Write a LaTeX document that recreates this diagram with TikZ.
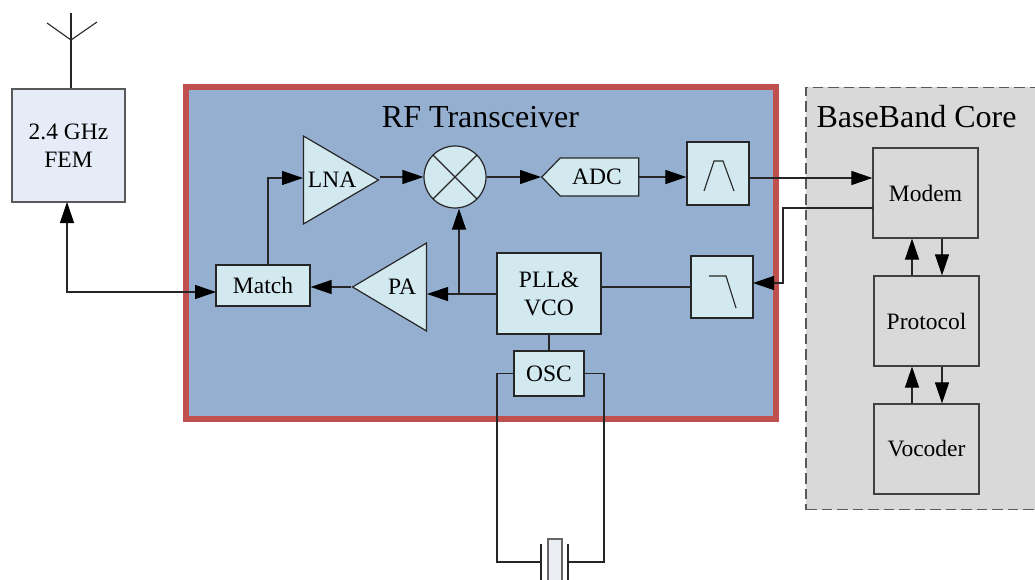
\documentclass[tikz,border=0pt]{standalone}
\usepackage{fontspec}
\setmainfont{Liberation Serif}
\usetikzlibrary{arrows.meta,shapes.geometric,shapes.symbols}
\definecolor{femfill}{HTML}{E6ECF7}
\definecolor{rffill}{HTML}{95AFD0}
\definecolor{rfedge}{HTML}{C0504D}
\definecolor{bbfill}{HTML}{D9D9D9}
\definecolor{blockfill}{HTML}{D2E9F0}
\definecolor{xtalfill}{HTML}{EAEEF4}

\begin{document}
\begin{tikzpicture}[x=1pt, y=1pt, line width=1pt, >={Triangle[length=21pt,width=14pt,fill=black,color=black]}, every node/.style={text=black, font=\fontsize{23.5}{28}\selectfont}]
    \tikzstyle{box}=[rectangle, draw=black!85, line width=1.2pt, inner sep=0pt, align=center]
    \tikzstyle{block}=[box, fill=blockfill]
    \tikzstyle{corebox}=[box, draw=black!75]
    \tikzstyle{amp}=[isosceles triangle, isosceles triangle stretches, draw=black!85, line width=1.2pt, fill=blockfill, inner sep=0pt]
    \tikzstyle{title}=[font=\fontsize{32}{36}\selectfont]
    \tikzstyle{wire}=[draw=black!85, line width=1.1pt]

    \clip (0,0) rectangle (1035,-580);

    % Large panels
    \node[box, draw=rfedge, line width=6pt, fill=rffill, minimum width=590pt, minimum height=332pt] (RF) at (481,-253) {};
    \node[box, draw=black!65, dash pattern=on 10.5pt off 5pt, line width=1.3pt, fill=bbfill, minimum width=239pt, minimum height=422.5pt] (BB) at (925.5,-298.5) {};
    \node[title] (RF-title) at (480.5,-117) {RF Transceiver};
    \node[title] (BB-title) at (916.5,-117) {BaseBand Core};

    % Antenna and front end
    \node[box, draw=black!65, line width=1.4pt, fill=femfill, minimum width=113pt, minimum height=113pt] (FEM) at (68.5,-145.5) {2.4 GHz\\FEM};
    \coordinate (ant-top) at (71,-13);
    \coordinate (ant-fork) at (71,-40);
    \coordinate (ant-left) at (47,-23);
    \coordinate (ant-right) at (97,-22);
    \draw[wire] (ant-top) -- (ant-top |- FEM.north);
    \draw[wire] (ant-left) -- (ant-fork) -- (ant-right);

    % Transceiver blocks
    \node[block, minimum width=94pt, minimum height=41pt] (Match) at (263,-285.5) {Match};
    \node[amp, anchor=apex, minimum width=88pt, minimum height=75pt] (LNA) at (380,-180) {\raisebox{-4pt}{LNA}};
    \node[amp, anchor=apex, shape border rotate=180, minimum width=88pt, minimum height=74pt] (PA) at (351,-287) {\hspace*{2pt}PA};
    \node[circle, draw=black!85, line width=1.2pt, fill=blockfill, minimum size=62pt, inner sep=0pt] (MIX) at (455,-177) {};
    \draw[wire] (MIX.north west) -- (MIX.south east);
    \draw[wire] (MIX.north east) -- (MIX.south west);
    \node[signal, signal to=west, signal from=nowhere, signal pointer angle=92, draw=black!85, line width=1.2pt, fill=blockfill, inner sep=0pt, minimum width=97pt, minimum height=38pt] (ADC) at (599.5,-177) {\hspace*{-5pt}ADC};
    \node[block, minimum width=62pt, minimum height=63pt] (BPF) at (718,-173.5) {};
    \node[block, minimum width=62pt, minimum height=62pt] (LPF) at (722,-287) {};
    \node[block, minimum width=104pt, minimum height=81pt] (PLL) at (549,-293.5) {PLL\&\\VCO};
    \node[block, minimum width=70pt, minimum height=45pt] (OSC) at (549,-373.5) {OSC};

    % Filter curves
    \draw[wire] (704,-191) -- (714,-161) -- (723,-161) -- (734,-191);
    \draw[wire] (709,-276) -- (726,-276) -- (736,-308);

    % Baseband blocks
    \node[corebox, minimum width=105pt, minimum height=90pt] (Modem) at (925.5,-193) {Modem};
    \node[corebox, minimum width=105pt, minimum height=90pt] (Protocol) at (926.5,-321) {Protocol};
    \node[corebox, minimum width=105pt, minimum height=90pt] (Vocoder) at (926.5,-449) {Vocoder};

    % Crystal
    \node[box, draw=black!60, fill=xtalfill, minimum width=14pt, minimum height=60pt] (XTAL) at (555,-569) {};
    \coordinate (plate-l) at (541,-562);
    \coordinate (plate-r) at (568,-562);
    \coordinate (xtal-l) at (497,-562);
    \coordinate (xtal-r) at (604,-562);
    \draw[wire, line width=1.4pt] (541,-544) -- (541,-585);
    \draw[wire, line width=1.4pt] (568,-544) -- (568,-585);
    \draw[wire] (OSC.west) -- (OSC.west -| xtal-l) -- (xtal-l) -- (plate-l);
    \draw[wire] (OSC.east) -- (OSC.east -| xtal-r) -- (xtal-r) -- (plate-r);

    % Receive path
    \coordinate (fem-port) at (67,-202);
    \coordinate (corner-match) at (67,-292);
    \coordinate (match-port) at (216,-292);
    \coordinate (match-up) at (268,-265.5);
    \coordinate (lna-in) at (303,-178);
    \draw[wire, <->] (fem-port) -- (corner-match) -- (match-port);
    \draw[wire, ->] (match-up) -- (match-up |- lna-in) -- (lna-in);
    \draw[wire, ->] (LNA.apex |- MIX.west) -- (MIX.west);
    \draw[wire, ->] (MIX.east) -- (ADC.west);
    \draw[wire, ->] (ADC.east) -- (ADC.east -| BPF.west);
    \coordinate (bpf-out) at (749,-178);
    \draw[wire, ->] (bpf-out) -- (bpf-out -| Modem.west);

    % Transmit path
    \coordinate (modem-out) at (873,-208);
    \coordinate (corner-lpf) at (783,-208);
    \coordinate (lpf-in) at (753,-283);
    \draw[wire, ->] (modem-out) -- (corner-lpf) -- (corner-lpf |- lpf-in) -- (lpf-in);
    \draw[wire] (LPF.west) -- (LPF.west -| PLL.east);
    \coordinate (pll-out) at (497,-294);
    \coordinate (pa-in) at (427,-294);
    \coordinate (tee) at (459,-294);
    \draw[wire, ->] (pll-out) -- (pa-in);
    \draw[wire, ->] (tee) -- (tee |- MIX.south);
    \draw[wire, ->] (PA.apex) -- (PA.apex -| Match.east);
    \draw[wire] (PLL.south) -- (OSC.north);

    % Links between the baseband blocks
    \foreach \upper/\lower in {Modem/Protocol,Protocol/Vocoder} {
        \coordinate (up-\lower) at (912,0);
        \coordinate (down-\lower) at (942,0);
        \draw[wire, ->] (up-\lower |- \lower.north) -- (up-\lower |- \upper.south);
        \draw[wire, ->] (down-\lower |- \upper.south) -- (down-\lower |- \lower.north);
    }
\end{tikzpicture}
\end{document}
